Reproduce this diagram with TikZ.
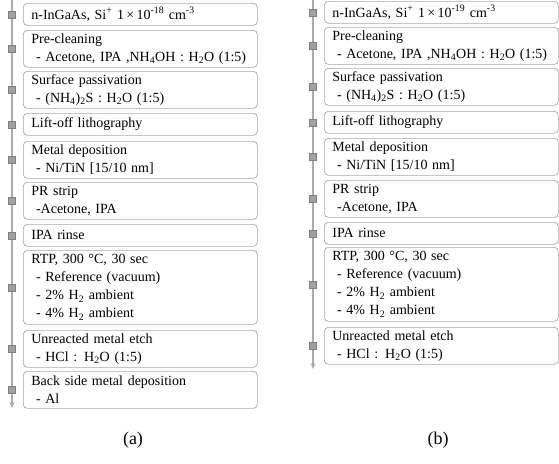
\documentclass[tikz,border=0pt]{standalone}
\usepackage{fontspec}
\setmainfont{Liberation Serif}
\usetikzlibrary{arrows.meta}
\definecolor{linegray}{RGB}{172,172,172}
\definecolor{sqfill}{RGB}{160,160,160}
\definecolor{sqdraw}{RGB}{128,128,128}
\definecolor{boxgray}{RGB}{168,168,168}
\newcommand{\sub}[1]{\textsubscript{#1}}
\newcommand{\sups}[1]{\textsuperscript{#1}}
\begin{document}
\begin{tikzpicture}[x=1pt,y=-1pt,
  stepbox/.style={draw=boxgray, line width=0.7pt, rounded corners=4pt, anchor=north west,
    text width=218pt, inner xsep=8pt, inner ysep=1.5pt, align=left,
    font=\fontsize{14}{18}\selectfont},
  one/.style={stepbox, minimum height=22pt},
  two/.style={stepbox, minimum height=37pt},
  four/.style={stepbox, minimum height=74pt},
  sq/.style={draw=sqdraw, fill=sqfill, line width=0.5pt, minimum size=7pt, inner sep=0pt},
  flow/.style={draw=linegray, line width=1.6pt, -{Stealth[length=6pt,width=5pt]}},
  panellabel/.style={font=\fontsize{18}{20}\selectfont}]
\useasboundingbox (0,0) rectangle (559,463);
\begin{scope}
\clip (0,0) rectangle (559,463);
% ---------- panel (a)
\coordinate (atop) at (12,0);
\coordinate (abot) at (12,408);
\draw[flow] (atop) -- (abot);
\node[one] (a1) at (23,3) {n-InGaAs, Si\sups{+} 1\,×\,10\sups{-18} cm\sups{-3}};
\node[two] (a2) at (23,30) {Pre-cleaning\\ \ - Acetone, IPA ,NH\sub{4}OH : H\sub{2}O (1:5)};
\node[two] (a3) at (23,71) {Surface passivation\\ \ - (NH\sub{4})\sub{2}S : H\sub{2}O (1:5)};
\node[one] (a4) at (23,113) {Lift-off lithography};
\node[two] (a5) at (23,141) {Metal deposition\\ \ - Ni/TiN [15/10 nm]};
\node[two] (a6) at (23,182) {PR strip\\ \ -Acetone, IPA};
\node[one] (a7) at (23,224) {IPA rinse};
\node[four] (a8) at (23,250) {RTP, 300 °C, 30 sec\\ \ - Reference (vacuum)\\ \ - 2\% H\sub{2} ambient\\ \ - 4\% H\sub{2} ambient};
\node[two] (a9) at (23,330) {Unreacted metal etch\\ \ - HCl : H\sub{2}O (1:5)};
\node[two] (a10) at (23,371) {Back side metal deposition\\ \ - Al};
\foreach \i in {1,...,10} {\node[sq] (as\i) at (atop |- a\i.west) {};}
\node[panellabel] (capa) at (133,440) {(a)};
% ---------- panel (b)
\coordinate (btop) at (313,0);
\coordinate (bbot) at (313,369);
\draw[flow] (btop) -- (bbot);
\node[one] (b1) at (324,1) {n-InGaAs, Si\sups{+} 1\,×\,10\sups{-19} cm\sups{-3}};
\node[two] (b2) at (324,27) {Pre-cleaning\\ \ - Acetone, IPA ,NH\sub{4}OH : H\sub{2}O (1:5)};
\node[two] (b3) at (324,68) {Surface passivation\\ \ - (NH\sub{4})\sub{2}S : H\sub{2}O (1:5)};
\node[one] (b4) at (324,111) {Lift-off lithography};
\node[two] (b5) at (324,138) {Metal deposition\\ \ - Ni/TiN [15/10 nm]};
\node[two] (b6) at (324,180) {PR strip\\ \ -Acetone, IPA};
\node[one] (b7) at (324,222) {IPA rinse};
\node[four] (b8) at (324,247) {RTP, 300 °C, 30 sec\\ \ - Reference (vacuum)\\ \ - 2\% H\sub{2} ambient\\ \ - 4\% H\sub{2} ambient};
\node[two] (b9) at (324,327) {Unreacted metal etch\\ \ - HCl : H\sub{2}O (1:5)};
\foreach \i in {1,...,9} {\node[sq] (bs\i) at (btop |- b\i.west) {};}
\node[panellabel] (capb) at (438,440) {(b)};
\end{scope}
\end{tikzpicture}
\end{document}
